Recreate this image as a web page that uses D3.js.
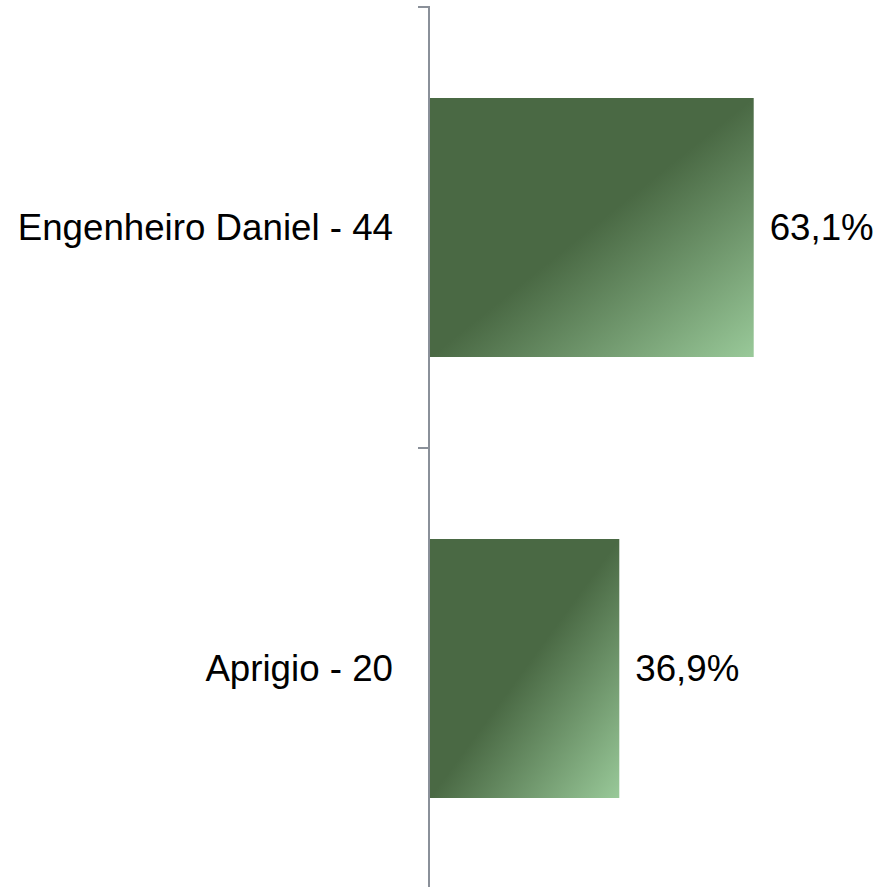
<!DOCTYPE html>
<html>
<head>
<meta charset="utf-8">
<script src="https://cdn.jsdelivr.net/npm/d3@7"></script>
<style>
  html, body { margin: 0; padding: 0; background: #fff; }
  svg { display: block; }
  text { font-family: "Liberation Sans", Arial, sans-serif; fill: #000; }
</style>
</head>
<body>
<svg id="chart" width="878" height="887"></svg>
<script>
const categories = ["Engenheiro Daniel - 44", "Aprigio - 20"];
const values = [63.1, 36.9];
const valueLabels = ["63,1%", "36,9%"];

const svg = d3.select("#chart");
const W = 878, H = 887;
const axisX = 430;
const pad = 0.4127;

const x = d3.scaleLinear().domain([0, 100]).range([axisX, axisX + 513]);
const y = d3.scaleBand().domain(categories).range([7, 889])
  .paddingInner(pad).paddingOuter(pad / 2);

const defs = svg.append("defs");
const grad = defs.append("linearGradient").attr("id", "barGrad")
  .attr("x1", 0).attr("y1", 0).attr("x2", 1).attr("y2", 1);
grad.append("stop").attr("offset", "0%").attr("stop-color", "#4a6944");
grad.append("stop").attr("offset", "50%").attr("stop-color", "#4a6944");
grad.append("stop").attr("offset", "100%").attr("stop-color", "#99c999");

const data = categories.map((c, i) => ({ c, v: values[i], l: valueLabels[i] }));

svg.selectAll("rect.bar").data(data).enter().append("rect")
  .attr("class", "bar")
  .attr("x", x(0))
  .attr("y", d => y(d.c))
  .attr("width", d => x(d.v) - x(0))
  .attr("height", y.bandwidth())
  .attr("fill", "url(#barGrad)");

// axis line and ticks at band boundaries
const step = y.step();
const boundaries = [y(categories[0]) - step * pad / 2]
  .concat(categories.map(c => y(c) - step * pad / 2 + step));
svg.append("line")
  .attr("x1", axisX - 1).attr("x2", axisX - 1)
  .attr("y1", boundaries[0] - 1).attr("y2", boundaries[boundaries.length - 1])
  .attr("stroke", "#8a9099").attr("stroke-width", 2);
svg.selectAll("line.tick").data(boundaries).enter().append("line")
  .attr("class", "tick")
  .attr("x1", axisX - 12).attr("x2", axisX - 1)
  .attr("y1", d => d).attr("y2", d => d)
  .attr("stroke", "#8a9099").attr("stroke-width", 2);

// category labels
svg.selectAll("text.cat").data(data).enter().append("text")
  .attr("class", "cat")
  .attr("x", axisX - 37)
  .attr("y", d => y(d.c) + y.bandwidth() / 2)
  .attr("dy", "0.33em")
  .attr("text-anchor", "end")
  .style("font-size", "36.7px")
  .text(d => d.c);

// value labels
svg.selectAll("text.val").data(data).enter().append("text")
  .attr("class", "val")
  .attr("x", d => x(d.v) + 16)
  .attr("y", d => y(d.c) + y.bandwidth() / 2)
  .attr("dy", "0.33em")
  .attr("text-anchor", "start")
  .style("font-size", "36.7px")
  .text(d => d.l);
</script>
</body>
</html>
